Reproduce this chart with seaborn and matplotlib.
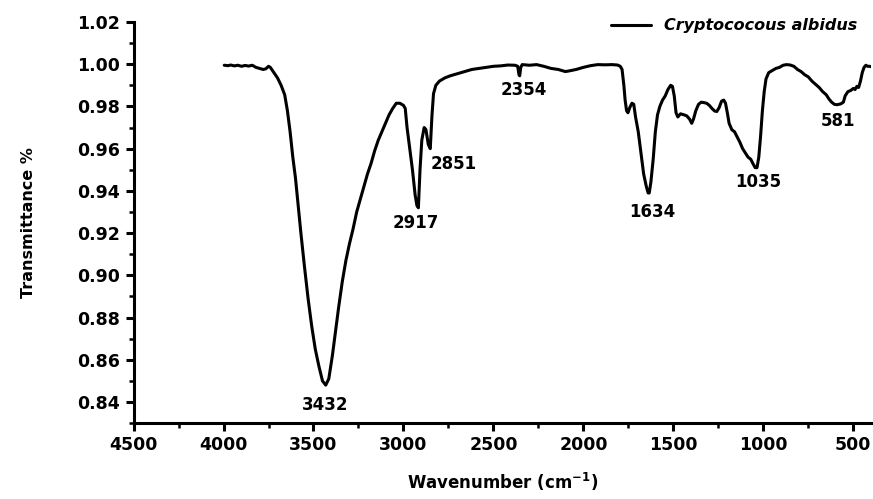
import numpy as np
import pandas as pd
import seaborn as sns
import matplotlib.pyplot as plt
from matplotlib.ticker import MultipleLocator

# FTIR spectrum
wavenumber = [
    3996, 3975, 3960, 3940, 3920, 3900, 3880, 3860, 3840, 3820, 3800, 3780, 3765, 3750, 3740,
    3720, 3700, 3680, 3660, 3645, 3630, 3615, 3600, 3585, 3570, 3550, 3530, 3510, 3490, 3470,
    3450, 3432, 3415, 3395, 3375, 3360, 3340, 3320, 3300, 3280, 3260, 3240, 3220, 3200, 3180,
    3160, 3140, 3120, 3100, 3080, 3060, 3040, 3020, 3000, 2990, 2980, 2965, 2950, 2935, 2925,
    2917, 2908, 2898, 2885, 2875, 2862, 2851, 2842, 2833, 2820, 2800, 2770, 2740, 2700, 2660,
    2620, 2580, 2540, 2500, 2460, 2420, 2380, 2365, 2358, 2354, 2348, 2340, 2300, 2260, 2220,
    2180, 2140, 2100, 2080, 2040, 2000, 1960, 1920, 1880, 1840, 1810, 1795, 1785, 1775, 1768,
    1760, 1752, 1742, 1730, 1720, 1710, 1695, 1680, 1665, 1650, 1640, 1634, 1625, 1612, 1600,
    1588, 1575, 1560, 1545, 1530, 1515, 1505, 1495, 1485, 1475, 1460, 1440, 1425, 1410, 1398,
    1388, 1375, 1360, 1345, 1330, 1315, 1300, 1285, 1270, 1258, 1245, 1232, 1220, 1210, 1200,
    1190, 1175, 1160, 1145, 1130, 1115, 1100, 1085, 1070, 1055, 1045, 1035, 1025, 1015, 1005,
    995, 985, 970, 950, 930, 910, 890, 870, 850, 830, 810, 790, 770, 750, 730,
    710, 690, 670, 650, 635, 620, 605, 590, 581, 570, 555, 545, 530, 515, 500,
    490, 480, 470, 460, 450, 440, 430, 420, 410, 400,
]
transmittance = [
    0.9995, 0.9993, 0.9996, 0.9992, 0.9995, 0.9990, 0.9994, 0.9991, 0.9995, 0.9985, 0.9980, 0.9975, 0.9978, 0.9990, 0.9985,
    0.9960, 0.9935, 0.9900, 0.9855, 0.9780, 0.9680, 0.9560, 0.9460, 0.9330, 0.9200, 0.9040, 0.8890, 0.8760, 0.8650, 0.8570,
    0.8500, 0.8480, 0.8510, 0.8620, 0.8750, 0.8850, 0.8970, 0.9070, 0.9150, 0.9220, 0.9300, 0.9360, 0.9420, 0.9480, 0.9530,
    0.9590, 0.9640, 0.9680, 0.9720, 0.9760, 0.9790, 0.9815, 0.9815, 0.9805, 0.9790, 0.9700, 0.9600, 0.9500, 0.9380, 0.9330,
    0.9320, 0.9500, 0.9640, 0.9700, 0.9690, 0.9620, 0.9600, 0.9750, 0.9860, 0.9900, 0.9920, 0.9935, 0.9945, 0.9955, 0.9965,
    0.9975, 0.9980, 0.9985, 0.9990, 0.9992, 0.9996, 0.9995, 0.9990, 0.9950, 0.9945, 0.9985, 0.9998, 0.9995, 0.9998, 0.9990,
    0.9980, 0.9975, 0.9965, 0.9968, 0.9975, 0.9985, 0.9993, 0.9998, 0.9997, 0.9998, 0.9996, 0.9990, 0.9975, 0.9900, 0.9830,
    0.9780, 0.9770, 0.9795, 0.9815, 0.9810, 0.9750, 0.9680, 0.9580, 0.9480, 0.9420, 0.9390, 0.9390, 0.9440, 0.9550, 0.9680,
    0.9760, 0.9800, 0.9830, 0.9850, 0.9880, 0.9900, 0.9895, 0.9850, 0.9770, 0.9750, 0.9765, 0.9760, 0.9755, 0.9740, 0.9720,
    0.9740, 0.9780, 0.9810, 0.9820, 0.9818, 0.9815, 0.9805, 0.9790, 0.9778, 0.9776, 0.9795, 0.9825, 0.9830, 0.9815, 0.9770,
    0.9720, 0.9690, 0.9680, 0.9655, 0.9630, 0.9600, 0.9580, 0.9560, 0.9550, 0.9525, 0.9510, 0.9510, 0.9560, 0.9660, 0.9780,
    0.9870, 0.9930, 0.9960, 0.9970, 0.9980, 0.9985, 0.9995, 0.9998, 0.9996, 0.9990, 0.9975, 0.9965, 0.9950, 0.9940, 0.9920,
    0.9905, 0.9890, 0.9870, 0.9855, 0.9835, 0.9820, 0.9810, 0.9808, 0.9810, 0.9812, 0.9820, 0.9850, 0.9870, 0.9875, 0.9885,
    0.9880, 0.9895, 0.9890, 0.9920, 0.9960, 0.9985, 0.9995, 0.9990, 0.9990, 0.9988,
]

# peak labels and where their text sits
peak_labels = ["3432", "2917", "2851", "2354", "1634", "1035", "581"]
label_x = [3433, 2930, 2722, 2333, 1617, 1028, 583]
label_y = [0.8385, 0.9250, 0.9525, 0.9880, 0.9300, 0.9440, 0.9730]

df = pd.DataFrame({"Wavenumber": wavenumber, "Transmittance": transmittance})

sns.set_style("ticks")
plt.rcParams['font.family'] = ['DejaVu Sans']
plt.rcParams['font.weight'] = 'bold'
plt.rcParams['text.color'] = 'black'
plt.rcParams['axes.labelcolor'] = 'black'
plt.rcParams['xtick.color'] = 'black'
plt.rcParams['ytick.color'] = 'black'
plt.rcParams['axes.edgecolor'] = 'black'

fig, ax = plt.subplots(figsize=(8.73, 4.99), dpi=100)
fig.subplots_adjust(left=0.153, right=0.998, bottom=0.152, top=0.956)

sns.lineplot(data=df, x="Wavenumber", y="Transmittance", sort=False, estimator=None,
             color="black", linewidth=2.2, ax=ax, label="Cryptococous albidus")

for txt, lx, ly in zip(peak_labels, label_x, label_y):
    ax.text(lx, ly, txt, ha="center", va="center", fontsize=12, fontweight="bold", color="black")

ax.set_xlim(4500, 400)
ax.set_ylim(0.83, 1.02)
ax.xaxis.set_major_locator(MultipleLocator(500))
ax.xaxis.set_minor_locator(MultipleLocator(250))
ax.yaxis.set_major_locator(MultipleLocator(0.02))
ax.yaxis.set_minor_locator(MultipleLocator(0.01))
ax.yaxis.set_major_formatter(plt.FormatStrFormatter("%.2f"))

sns.despine(ax=ax)
for side in ["left", "bottom"]:
    ax.spines[side].set_linewidth(2.2)
    ax.spines[side].set_color("black")
ax.tick_params(which="major", direction="out", length=6, width=2.2, labelsize=12.5, colors="black")
ax.tick_params(which="minor", direction="out", length=3.5, width=1.8, colors="black")
for lab in ax.get_xticklabels() + ax.get_yticklabels():
    lab.set_fontweight("bold")

ax.set_xlabel("Wavenumber (cm$^{\\mathbf{-1}}$)", fontsize=12, fontweight="bold", labelpad=12)
ax.set_ylabel("Transmittance %", fontsize=11.5, fontweight="bold", labelpad=30)

leg = ax.legend(loc="upper right", bbox_to_anchor=(1.0, 1.045), frameon=False,
                handlelength=2.5, prop={"weight": "bold", "style": "italic", "size": 11.5})
for t in leg.get_texts():
    t.set_color("black")

fig.savefig("out.png", dpi=100)
